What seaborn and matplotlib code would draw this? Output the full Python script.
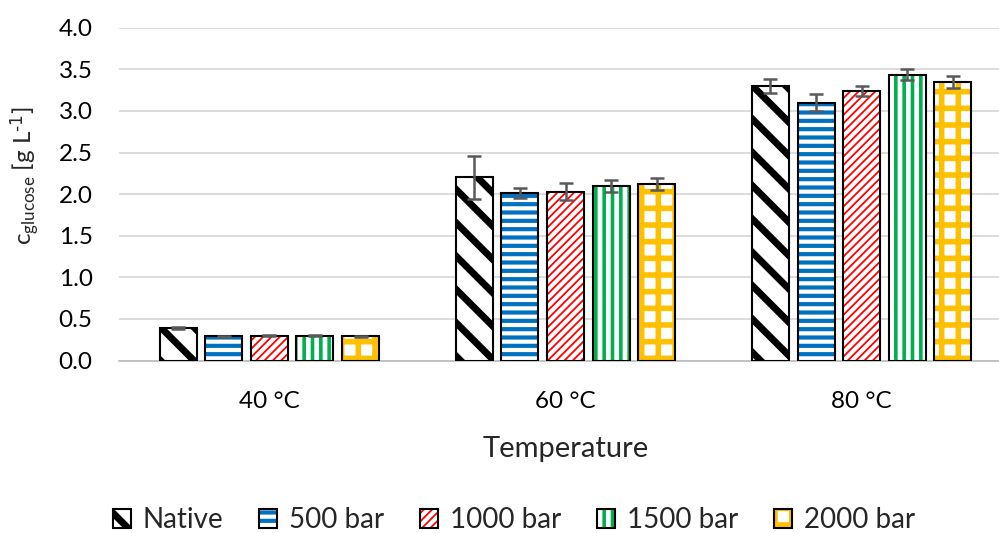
import pandas as pd
import seaborn as sns
import matplotlib.pyplot as plt
from matplotlib.patches import Patch, Rectangle

# glucose concentration per temperature and pretreatment pressure
temps = ["40 °C", "60 °C", "80 °C"]
conditions = ["Native", "500 bar", "1000 bar", "1500 bar", "2000 bar"]

native = [0.39, 2.20, 3.30]
bar500 = [0.29, 2.01, 3.10]
bar1000 = [0.30, 2.03, 3.24]
bar1500 = [0.30, 2.10, 3.435]
bar2000 = [0.29, 2.12, 3.35]

native_err = [0.01, 0.26, 0.08]
bar500_err = [0.01, 0.06, 0.10]
bar1000_err = [0.01, 0.10, 0.06]
bar1500_err = [0.01, 0.07, 0.065]
bar2000_err = [0.01, 0.07, 0.07]

colors = ["#000000", "#0070C0", "#FF0000", "#00B050", "#FFC000"]
hatches = ["\\", "--", "////", "||", "+"]
hatch_lw = [5.0, 3.0, 1.3, 2.6, 4.0]

values = [native, bar500, bar1000, bar1500, bar2000]
errors = [native_err, bar500_err, bar1000_err, bar1500_err, bar2000_err]

rows = []
for cond, vals, errs in zip(conditions, values, errors):
    for t, v, e in zip(temps, vals, errs):
        rows.append({"temp": t, "cond": cond, "conc": v, "err": e})
df = pd.DataFrame(rows)

sns.set_style("white")
plt.rcParams["font.family"] = ["Lato", "DejaVu Sans"]
plt.rcParams["mathtext.default"] = "regular"

fig = plt.figure(figsize=(9.99, 5.33), dpi=100)
ax = fig.add_axes([119 / 999, 1 - 360.5 / 533, (1012 - 119) / 999, (360.5 - 27.7) / 533])

sns.barplot(data=df, x="temp", y="conc", hue="cond", order=temps, hue_order=conditions,
            palette=colors, width=0.77, gap=0.19, errorbar=None, legend=False, ax=ax)


def style_hatch(p, i):
    p.set_facecolor("white")
    p.set_edgecolor(colors[i])
    p.set_hatch(hatches[i])
    p.set_linewidth(0)
    if hasattr(p, "set_hatch_linewidth"):
        p.set_hatch_linewidth(hatch_lw[i])


bar_containers = list(ax.containers)
for i, cont in enumerate(bar_containers):
    sub = df[df["cond"] == conditions[i]].set_index("temp").loc[temps]
    xs = []
    for p in cont.patches:
        style_hatch(p, i)
        ax.add_patch(Rectangle(p.get_xy(), p.get_width(), p.get_height(), fill=False,
                               edgecolor="black", linewidth=1.5, zorder=3))
        xs.append(p.get_x() + p.get_width() / 2)
    ax.errorbar(xs, sub["conc"], yerr=sub["err"], fmt="none", ecolor="#595959",
                elinewidth=1.8, capsize=5, capthick=1.8, zorder=4)

ax.set_ylim(0, 4.0)
ax.set_yticks([0, 0.5, 1.0, 1.5, 2.0, 2.5, 3.0, 3.5, 4.0])
ax.set_yticklabels([f"{v:.1f}" for v in ax.get_yticks()])
ax.yaxis.grid(True, color="#D9D9D9", linewidth=1.3)
ax.set_axisbelow(True)
for s in ["top", "right", "left"]:
    ax.spines[s].set_visible(False)
ax.spines["bottom"].set_color("#BFBFBF")
ax.spines["bottom"].set_linewidth(1.3)
ax.tick_params(axis="both", length=0, labelsize=17.5, colors="black")
ax.tick_params(axis="y", pad=19)
ax.tick_params(axis="x", pad=22)

ax.set_xlabel("Temperature", fontsize=21, labelpad=17)
ax.set_ylabel(r"c$_{glucose}$ [g L$^{\text{-1}}$]", fontsize=17.5)
ax.yaxis.set_label_coords(-0.087, 0.555)

handles = []
for i in range(len(conditions)):
    hp = Patch(linewidth=0)
    style_hatch(hp, i)
    handles.append((hp, Patch(fill=False, edgecolor="black", linewidth=1.5)))
leg = fig.legend(handles, conditions, loc="center", bbox_to_anchor=(0.5145, 1 - 520 / 533),
                 ncol=5, frameon=False, fontsize=20, handlelength=0.65, handleheight=0.65,
                 handletextpad=0.42, columnspacing=1.3)

# legend handles are copies, so put the hatch widths back on them
lw_by_hatch = dict(zip(hatches, hatch_lw))
for r in leg.findobj(Rectangle):
    h = r.get_hatch()
    if h in lw_by_hatch and hasattr(r, "set_hatch_linewidth"):
        r.set_hatch_linewidth(lw_by_hatch[h])

fig.savefig("out.png", dpi=100)
